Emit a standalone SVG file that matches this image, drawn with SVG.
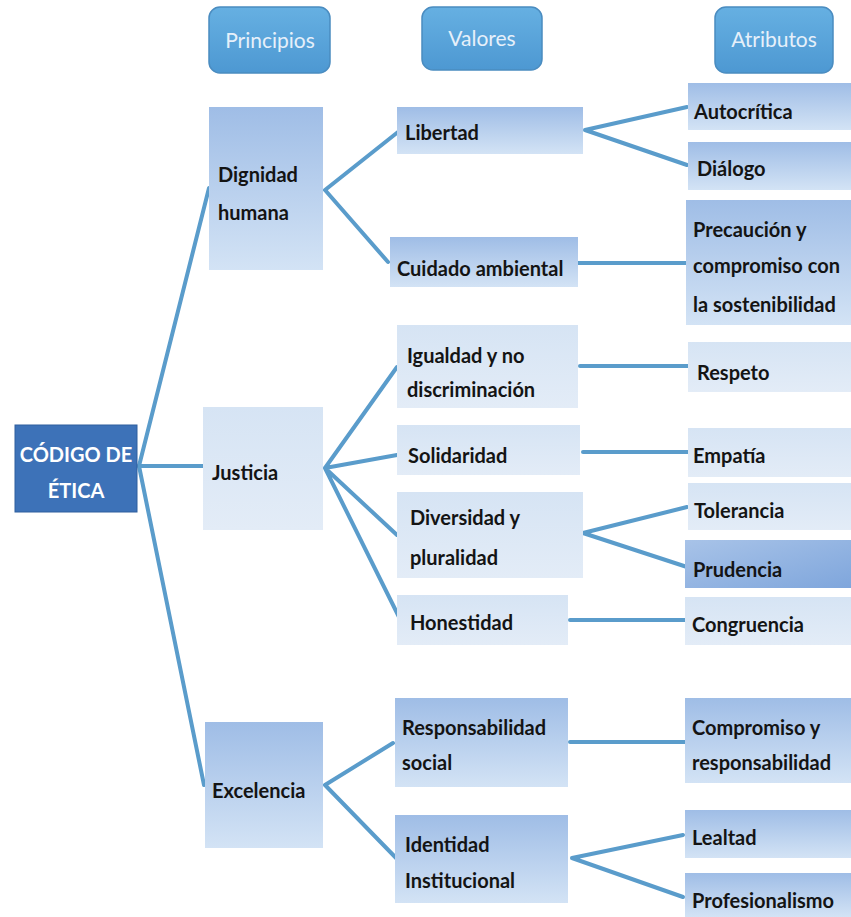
<svg xmlns="http://www.w3.org/2000/svg" width="851" height="917" viewBox="0 0 851 917">
<defs>
<linearGradient id="gA" x1="0" y1="0" x2="0" y2="1">
<stop offset="0" stop-color="#9fbde6"/>
<stop offset="1" stop-color="#d3e3f5"/>
</linearGradient>
<linearGradient id="gB" x1="0" y1="0" x2="0" y2="1">
<stop offset="0" stop-color="#d6e4f4"/>
<stop offset="1" stop-color="#e3ecf7"/>
</linearGradient>
<linearGradient id="gP" x1="0" y1="0" x2="1" y2="1">
<stop offset="0" stop-color="#a8c3e8"/>
<stop offset="1" stop-color="#7fa6dc"/>
</linearGradient>
<linearGradient id="gH" x1="0" y1="0" x2="0" y2="1">
<stop offset="0" stop-color="#66b0e2"/>
<stop offset="1" stop-color="#4d98d2"/>
</linearGradient>
</defs>
<style>
.hdr{fill:url(#gH);stroke:#4a8cc0;stroke-width:1.5}
.hdt{font-family:Lato,"Liberation Sans",sans-serif;font-size:21px;fill:#e6f0fa;text-anchor:middle}
.a{fill:url(#gA)}
.b{fill:url(#gB)}
.p{fill:url(#gP)}
.t{font-family:Lato,"Liberation Sans",sans-serif;font-size:20px;font-weight:bold;fill:#141414}
.root{fill:#3d72b8;stroke:#2f5f9e;stroke-width:1}
.rt{font-family:Lato,"Liberation Sans",sans-serif;font-size:20px;font-weight:bold;fill:#ffffff;text-anchor:middle}
.c{stroke:#5a9ccb;stroke-width:4;fill:none;stroke-linecap:round;stroke-linejoin:round}
</style>
<rect width="851" height="917" fill="#ffffff"/>

<g id="connectors">
<path class="c" d="M139,466 L209,188"/>
<path class="c" d="M139,466 L203,466"/>
<path class="c" d="M139,466 L204,785"/>
<path class="c" d="M325,190 L398,132 M325,190 L388,262"/>
<path class="c" d="M585,130 L687,107 M585,130 L687,165"/>
<path class="c" d="M578,263 L688,263"/>
<path class="c" d="M325,468 L397,367 M325,468 L397,455 M325,468 L397,535 M325,468 L399,617"/>
<path class="c" d="M580,366 L688,366"/>
<path class="c" d="M583,452 L688,452"/>
<path class="c" d="M583,533 L687,507 M583,533 L687,567"/>
<path class="c" d="M570,620 L685,620"/>
<path class="c" d="M325,785 L393,743 M325,785 L398,860"/>
<path class="c" d="M570,742 L685,742"/>
<path class="c" d="M572,858 L683,835 M572,858 L683,897"/>
</g>

<g id="h-principios"><rect class="hdr" x="209" y="7" width="121" height="66" rx="11"/><text class="hdt" x="270" y="48">Principios</text></g>
<g id="h-valores"><rect class="hdr" x="422" y="7" width="120" height="63" rx="11"/><text class="hdt" x="482" y="46">Valores</text></g>
<g id="h-atributos"><rect class="hdr" x="715" y="7" width="118" height="66" rx="11"/><text class="hdt" x="774" y="47">Atributos</text></g>

<g id="codigo"><rect class="root" x="15" y="425" width="122" height="87"/><text class="rt" x="76" y="462">CÓDIGO DE</text><text class="rt" x="76" y="498">ÉTICA</text></g>

<g id="dignidad"><rect class="a" x="209" y="107" width="114" height="163"/><text class="t" x="218" y="182">Dignidad</text><text class="t" x="218" y="220">humana</text></g>
<g id="justicia"><rect class="b" x="203" y="407" width="120" height="123"/><text class="t" x="212" y="480">Justicia</text></g>
<g id="excelencia"><rect class="a" x="205" y="722" width="118" height="126"/><text class="t" x="212" y="798">Excelencia</text></g>

<g id="libertad"><rect class="a" x="397" y="107" width="186" height="47"/><text class="t" x="405" y="140">Libertad</text></g>
<g id="cuidado"><rect class="a" x="390" y="237" width="188" height="50"/><text class="t" x="397" y="276">Cuidado ambiental</text></g>
<g id="igualdad"><rect class="b" x="397" y="325" width="181" height="83"/><text class="t" x="407" y="363">Igualdad y no</text><text class="t" x="407" y="397">discriminación</text></g>
<g id="solidaridad"><rect class="b" x="397" y="425" width="183" height="50"/><text class="t" x="408" y="463">Solidaridad</text></g>
<g id="diversidad"><rect class="b" x="397" y="492" width="186" height="86"/><text class="t" x="410" y="525">Diversidad y</text><text class="t" x="410" y="565">pluralidad</text></g>
<g id="honestidad"><rect class="b" x="397" y="595" width="171" height="50"/><text class="t" x="410" y="630">Honestidad</text></g>
<g id="responsabilidad"><rect class="a" x="395" y="698" width="173" height="89"/><text class="t" x="402" y="735">Responsabilidad</text><text class="t" x="402" y="770">social</text></g>
<g id="identidad"><rect class="a" x="395" y="815" width="173" height="88"/><text class="t" x="405" y="852">Identidad</text><text class="t" x="405" y="888">Institucional</text></g>

<g id="autocritica"><rect class="a" x="688" y="83" width="163" height="47"/><text class="t" x="694" y="119">Autocrítica</text></g>
<g id="dialogo"><rect class="a" x="688" y="142" width="163" height="48"/><text class="t" x="697" y="176">Diálogo</text></g>
<g id="precaucion"><rect class="a" x="686" y="200" width="165" height="125"/><text class="t" x="693" y="237">Precaución y</text><text class="t" x="693" y="273">compromiso con</text><text class="t" x="693" y="312">la sostenibilidad</text></g>
<g id="respeto"><rect class="b" x="688" y="342" width="163" height="50"/><text class="t" x="697" y="380">Respeto</text></g>
<g id="empatia"><rect class="b" x="688" y="428" width="163" height="49"/><text class="t" x="693" y="463">Empatía</text></g>
<g id="tolerancia"><rect class="b" x="688" y="483" width="163" height="47"/><text class="t" x="694" y="518">Tolerancia</text></g>
<g id="prudencia"><rect class="p" x="685" y="540" width="166" height="48"/><text class="t" x="693" y="577">Prudencia</text></g>
<g id="congruencia"><rect class="b" x="685" y="597" width="166" height="48"/><text class="t" x="692" y="632">Congruencia</text></g>
<g id="compromiso"><rect class="a" x="685" y="698" width="166" height="85"/><text class="t" x="692" y="735">Compromiso y</text><text class="t" x="692" y="770">responsabilidad</text></g>
<g id="lealtad"><rect class="a" x="685" y="810" width="166" height="48"/><text class="t" x="692" y="845">Lealtad</text></g>
<g id="profesionalismo"><rect class="a" x="685" y="873" width="166" height="44"/><text class="t" x="692" y="908">Profesionalismo</text></g>
</svg>
